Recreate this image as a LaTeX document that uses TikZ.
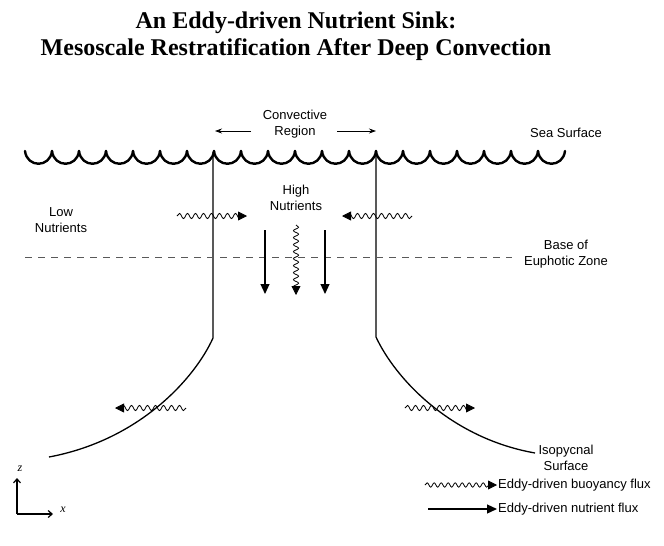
\documentclass[tikz,border=0pt]{standalone}
\usepackage{fontspec}
\setmainfont{Liberation Serif}
\setsansfont{Liberation Sans}
\usetikzlibrary{arrows.meta,decorations.pathmorphing}
\tikzset{
  lbl/.style={font=\sffamily\fontsize{13}{16}\selectfont, align=center, inner sep=0pt},
  titlefont/.style={font=\rmfamily\bfseries\fontsize{24}{27}\selectfont, align=center, inner sep=0pt},
  surf/.style={line width=2.4pt, line cap=round},
  wall/.style={line width=1.3pt},
  fluxarrow/.style={line width=1.2pt, -{Triangle[length=10pt,width=9pt]}},
  wavyarrow/.style={line width=0.8pt, -{Triangle[length=9pt,width=9pt]}, decorate,
     decoration={snake, amplitude=2.6pt, segment length=8pt, post length=5pt}},
  smallarrow/.style={line width=0.8pt, -{Stealth[length=7pt,width=5pt]}},
  axisarrow/.style={line width=1.2pt, -{Straight Barb[length=4pt,width=7pt]}},
  euph/.style={line width=1pt, draw=black!65, dash pattern=on 7pt off 6pt},
  axlbl/.style={font=\rmfamily\itshape\fontsize{12}{13}\selectfont, inner sep=0pt}
}
\begin{document}
\begin{tikzpicture}[x=1pt,y=-1pt]
\useasboundingbox (0,0) rectangle (664,546);
% title
\node[titlefont] (title) at (296,36) {An Eddy-driven Nutrient Sink:\\Mesoscale Restratification After Deep Convection};
% sea surface
\foreach \i in {0,...,19}{
  \pgfmathsetmacro{\xa}{25+27*\i}
  \pgfmathsetmacro{\xb}{52+27*\i}
  \draw[surf] (\xa,151) .. controls (\xa+2,168) and (\xb-2,168) .. (\xb,151);
}
% walls and isopycnals
\coordinate (lt) at (213,152);
\coordinate (lk) at (213,338);
\coordinate (le) at (49,457);
\coordinate (rt) at (376,152);
\coordinate (rk) at (376,337);
\coordinate (re) at (535,453);
\draw[wall] (lt) -- (lk) .. controls (195,378) and (140,440) .. (le);
\draw[wall] (rt) -- (rk) .. controls (395,378) and (450,438) .. (re);
% euphotic base
\coordinate (ea) at (25,257);
\coordinate (eb) at (512,257);
\draw[euph] (ea) -- (eb);
% labels
\node[lbl] (conv) at (295,124) {Convective\\Region};
\node[lbl] (sea) at (566,133) {Sea Surface};
\node[lbl] (low) at (61,220) {Low\\Nutrients};
\node[lbl] (high) at (296,198) {High\\Nutrients};
\node[lbl] (base) at (566,254) {Base of\\Euphotic Zone};
\node[lbl] (iso) at (566,458) {Isopycnal\\Surface};
% convective region arrows
\coordinate (cla) at (251,131);
\coordinate (clb) at (215,131);
\coordinate (cra) at (337,131);
\coordinate (crb) at (376,131);
\draw[smallarrow] (cla) -- (clb);
\draw[smallarrow] (cra) -- (crb);
% upper buoyancy fluxes
\coordinate (ula) at (177,216);
\coordinate (ulb) at (247,216);
\coordinate (ura) at (412,216);
\coordinate (urb) at (342,216);
\draw[wavyarrow] (ula) -- (ulb);
\draw[wavyarrow] (ura) -- (urb);
\coordinate (cwa) at (296,225);
\coordinate (cwb) at (296,295);
\draw[wavyarrow, decoration={snake, amplitude=2.6pt, segment length=7pt, post length=5pt}] (cwa) -- (cwb);
% nutrient fluxes
\coordinate (na) at (265,230);
\coordinate (nb) at (265,294);
\coordinate (nc) at (325,230);
\coordinate (nd) at (325,294);
\draw[fluxarrow] (na) -- (nb);
\draw[fluxarrow] (nc) -- (nd);
% lower buoyancy fluxes
\coordinate (lla) at (186,408);
\coordinate (llb) at (115,408);
\coordinate (lra) at (405,408);
\coordinate (lrb) at (475,408);
\draw[wavyarrow] (lla) -- (llb);
\draw[wavyarrow] (lra) -- (lrb);
% axes
\coordinate (o) at (17,514);
\coordinate (zt) at (17,478);
\coordinate (xt) at (53,514);
\draw[axisarrow] (o) -- (zt);
\draw[axisarrow] (o) -- (xt);
\node[axlbl] (zl) at (20,469) {z};
\node[axlbl] (xl) at (63,510) {x};
% legend
\coordinate (lga) at (425,485);
\coordinate (lgb) at (497,485);
\draw[wavyarrow, decoration={snake, amplitude=2.2pt, segment length=7pt, post length=5pt}] (lga) -- (lgb);
\node[lbl, anchor=west] (lgt1) at (498,485) {Eddy-driven buoyancy flux};
\coordinate (lgc) at (428,509);
\coordinate (lgd) at (497,509);
\draw[fluxarrow] (lgc) -- (lgd);
\node[lbl, anchor=west] (lgt2) at (498,509) {Eddy-driven nutrient flux};
\end{tikzpicture}
\end{document}
